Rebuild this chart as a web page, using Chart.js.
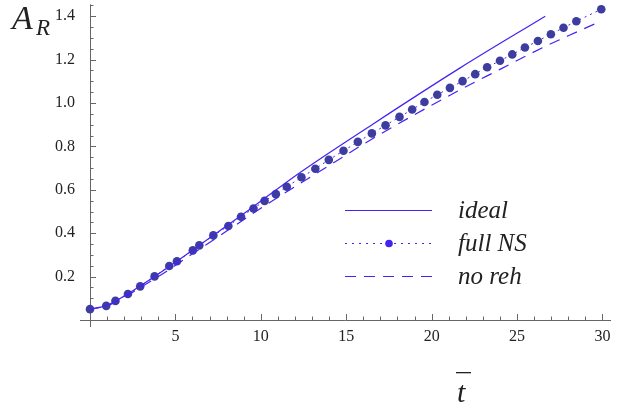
<!DOCTYPE html>
<html>
<head>
<meta charset="utf-8">
<script src="https://cdn.jsdelivr.net/npm/chart.js@4/dist/chart.umd.min.js"></script>
<style>
  html, body { margin: 0; padding: 0; background: #fff; }
  #wrap { width: 623px; height: 406px; }
</style>
</head>
<body>
<div id="wrap"><canvas id="c" width="623" height="406"></canvas></div>
<script>
// values: t-bar on x, A_R on y
const idealT = [0, 1, 2, 3, 4, 5, 6, 7, 8, 9.4, 12.3, 16.6, 21.67, 26.65];
const idealA = [0.05, 0.068, 0.11, 0.16, 0.212, 0.266, 0.322, 0.378, 0.434, 0.513, 0.68, 0.905, 1.162, 1.40];

const nsT = [0, 0.95, 1.49, 2.22, 2.94, 3.78, 4.64, 5.09, 6.02, 6.40, 7.22, 8.1, 8.84, 9.57, 10.22, 10.88,
  11.52, 12.38, 13.19, 13.98, 14.84, 15.68, 16.5, 17.3, 18.12, 18.86, 19.58, 20.33, 21.07, 21.81,
  22.55, 23.25, 24.0, 24.72, 25.46, 26.22, 26.98, 27.72, 28.47, 29.93];
const nsA = [0.05, 0.065, 0.088, 0.12, 0.155, 0.201, 0.249, 0.271, 0.321, 0.344, 0.39, 0.433, 0.476, 0.514, 0.549, 0.58,
  0.614, 0.658, 0.697, 0.738, 0.78, 0.821, 0.86, 0.897, 0.936, 0.97, 1.005, 1.038, 1.07, 1.101,
  1.133, 1.165, 1.195, 1.224, 1.256, 1.286, 1.317, 1.347, 1.377, 1.432];

const norehT = [0, 1, 2, 3, 4, 6, 8, 10, 12, 14, 16, 18, 20, 22, 24, 25.77, 26.75, 28, 29.7];
const norehA = [0.05, 0.065, 0.105, 0.152, 0.2, 0.305, 0.41, 0.515, 0.615, 0.712, 0.81, 0.902, 0.99, 1.075, 1.155, 1.227, 1.265, 1.31, 1.37];

const xTicks = [5, 10, 15, 20, 25, 30];
const yTicks = [0.2, 0.4, 0.6, 0.8, 1.0, 1.2, 1.4];

const seriesNames = ['ideal', 'full NS', 'no reh'];

const BLUE = '#4422f2';
const DOT = '#3d3da0';
const AXIS = '#666';
const SERIF = '"Liberation Serif", "DejaVu Serif", serif';

function pts(xs, ys) {
  return xs.map((x, i) => ({ x: x, y: ys[i] }));
}

// Mathematica style axes crossing at the origin, ticks pointing inward
const axesPlugin = {
  id: 'mmaAxes',
  beforeDatasetsDraw(chart) {
    const ctx = chart.ctx;
    const xs = chart.scales.x, ys = chart.scales.y;
    const x0 = xs.getPixelForValue(0), y0 = ys.getPixelForValue(0);
    ctx.save();
    ctx.strokeStyle = AXIS;
    ctx.lineWidth = 1;
    ctx.beginPath();
    ctx.moveTo(x0 - 10, y0 + 0.5);
    ctx.lineTo(xs.right, y0 + 0.5);
    ctx.moveTo(x0 + 0.5, y0 + 7);
    ctx.lineTo(x0 + 0.5, ys.top);
    for (let v = 1; v <= 30; v++) {
      const px = Math.round(xs.getPixelForValue(v)) + 0.5;
      const len = v % 5 === 0 ? 6 : 3.5;
      ctx.moveTo(px, y0);
      ctx.lineTo(px, y0 - len);
    }
    for (let k = 1; k <= 29; k++) {
      const v = k * 0.05;
      const py = Math.round(ys.getPixelForValue(v)) + 0.5;
      const len = k % 4 === 0 ? 6 : 3.5;
      ctx.moveTo(x0, py);
      ctx.lineTo(x0 + len, py);
    }
    ctx.stroke();
    ctx.restore();
  },
  afterDraw(chart) {
    const ctx = chart.ctx;
    ctx.save();
    ctx.fillStyle = '#222';
    ctx.textBaseline = 'alphabetic';
    // axis labels
    ctx.font = 'italic 34px ' + SERIF;
    ctx.fillText('A', 12, 29);
    ctx.font = 'italic 23px ' + SERIF;
    ctx.fillText('R', 36, 35);
    ctx.font = 'italic 30px ' + SERIF;
    ctx.fillText('t', 457, 402);
    ctx.fillRect(456, 372, 15, 1.3);

    // legend
    const lx0 = 345, lx1 = 432, tx = 458;
    const rows = [210, 243, 276];
    ctx.strokeStyle = BLUE;
    ctx.lineWidth = 1.2;
    rows.forEach((ry, i) => {
      ctx.beginPath();
      ctx.setLineDash(i === 0 ? [] : (i === 1 ? [2, 5] : [11, 8]));
      ctx.moveTo(lx0, ry + 0.5);
      ctx.lineTo(lx1, ry + 0.5);
      ctx.stroke();
    });
    ctx.setLineDash([]);
    ctx.fillStyle = BLUE;
    ctx.beginPath();
    ctx.arc(389, rows[1] + 0.5, 3.8, 0, Math.PI * 2);
    ctx.fill();
    ctx.fillStyle = '#222';
    ctx.font = 'italic 25px ' + SERIF;
    ctx.textBaseline = 'middle';
    rows.forEach((ry, i) => ctx.fillText(seriesNames[i], tx, ry + 1));
    ctx.restore();
  }
};

new Chart(document.getElementById('c'), {
  type: 'scatter',
  data: {
    datasets: [
      {
        label: seriesNames[0],
        data: pts(idealT, idealA),
        showLine: true,
        borderColor: BLUE,
        borderWidth: 1.2,
        pointRadius: 0,
        cubicInterpolationMode: 'monotone',
        clip: false
      },
      {
        label: seriesNames[2],
        data: pts(norehT, norehA),
        showLine: true,
        borderColor: BLUE,
        borderWidth: 1.2,
        borderDash: [11, 8],
        pointRadius: 0,
        cubicInterpolationMode: 'monotone',
        clip: false
      },
      {
        label: seriesNames[1],
        data: pts(nsT, nsA),
        showLine: true,
        borderColor: BLUE,
        borderWidth: 1,
        borderDash: [2, 4],
        pointRadius: 4.3,
        pointBackgroundColor: DOT,
        pointBorderWidth: 0,
        clip: false
      }
    ]
  },
  options: {
    responsive: false,
    animation: false,
    events: [],
    layout: { padding: { top: 0, right: 12, left: 0, bottom: 0 } },
    plugins: { legend: { display: false }, tooltip: { enabled: false } },
    scales: {
      x: {
        type: 'linear',
        min: 0,
        max: 30.5,
        afterFit: s => { s.height = 86; s.paddingLeft = 0; s.paddingRight = 0; },
        afterBuildTicks: s => { s.ticks = xTicks.map(v => ({ value: v })); },
        grid: { display: false },
        border: { display: false },
        ticks: { color: '#222', padding: -1, font: { family: SERIF, size: 16 }, maxRotation: 0 }
      },
      y: {
        type: 'linear',
        min: 0,
        max: 1.455,
        afterFit: s => { s.width = 90; s.paddingTop = 0; s.paddingBottom = 0; },
        afterBuildTicks: s => { s.ticks = yTicks.map(v => ({ value: v })); },
        grid: { display: false },
        border: { display: false },
        ticks: { color: '#222', padding: 7, font: { family: SERIF, size: 16 }, callback: v => v.toFixed(1) }
      }
    }
  },
  plugins: [axesPlugin]
});
</script>
</body>
</html>
